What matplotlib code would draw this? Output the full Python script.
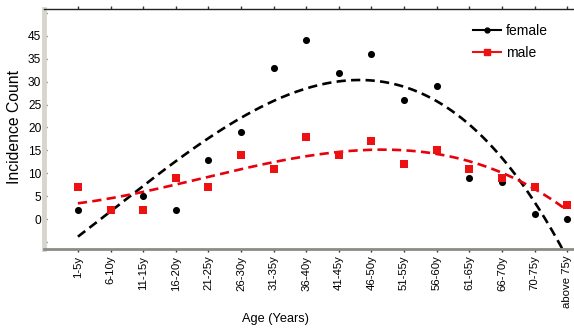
import numpy as np
import matplotlib
matplotlib.use("Agg")
import matplotlib.pyplot as plt
from matplotlib.lines import Line2D

plt.rcParams['font.family'] = ['Liberation Sans', 'DejaVu Sans']

age_groups = ['1-5y', '6-10y', '11-15y', '16-20y', '21-25y', '26-30y', '31-35y',
              '36-40y', '41-45y', '46-50y', '51-55y', '56-60y', '61-65y',
              '66-70y', '70-75y', 'above 75y']
female = [2, 2, 5, 2, 13, 19, 33, 39, 32, 36, 26, 29, 9, 8, 1, 0]
male = [7, 2, 2, 9, 7, 14, 11, 18, 14, 17, 12, 15, 11, 9, 7, 3]
ytick_values = [-5, 0, 5, 10, 15, 20, 25, 30, 35, 40, 45]
ytick_labels = ['', '0', '5', '10', '15', '20', '25', '30', '35', '45', '']

x = np.arange(len(age_groups))

fig = plt.figure(figsize=(5.74, 3.29), dpi=100)
ax = fig.add_axes([44/574, 1-249.3/329, 1-44/574, (249.3-9.3)/329])

# polynomial trend lines fitted to the data
xs = np.linspace(0, len(age_groups)-1, 200)
cf = np.polyfit(x, female, 3)
cm = np.polyfit(x, male, 3)
ax.plot(xs, np.polyval(cf, xs), ls=(0, (3.5, 2)), color='black', lw=1.9, zorder=2)
ax.plot(xs, np.polyval(cm, xs), ls=(0, (3.5, 2)), color='#e8000b', lw=1.9, zorder=2)

ax.scatter(x, female, s=26, marker='o', color='black', zorder=3, linewidths=0)
ax.scatter(x, male, s=34, marker='s', color='#ee1111', zorder=4, linewidths=0)

ax.set_xlim(-1.04, 15.21)
ax.set_ylim(-6.6, 45.8)
ax.set_xticks(x)
ax.set_xticklabels(age_groups, rotation=90, fontsize=8.2)
ax.set_yticks(ytick_values)
ax.set_yticklabels(ytick_labels, fontsize=8.6)
ax.tick_params(axis='y', direction='in', length=2, width=1, color='#333333', pad=2)
ax.tick_params(axis='x', direction='out', length=2.5, width=1, color='#333333', pad=2,
               top=True)

ax.spines['left'].set_color('#d6d6ce')
ax.spines['left'].set_linewidth(3.5)
ax.spines['bottom'].set_color('#8c8c86')
ax.spines['bottom'].set_linewidth(2)
ax.spines['top'].set_color('#222222')
ax.spines['top'].set_linewidth(1)
ax.spines['right'].set_visible(False)

ax.set_ylabel('Incidence Count', fontsize=11.3)
ax.yaxis.set_label_coords(-0.042, 0.51)
ax.set_xlabel('Age (Years)', fontsize=9.2)
ax.xaxis.set_label_coords((275-44)/530, -(313-249.3)/240)

handles = [Line2D([], [], color='black', marker='o', markersize=3.5, lw=1.5),
           Line2D([], [], color='#ee1111', marker='s', markersize=4, lw=1.5)]
leg = ax.legend(handles, ['female', 'male'], loc='upper right', frameon=False,
                fontsize=10, handlelength=2.0, handletextpad=0.4,
                bbox_to_anchor=(0.975, 0.99), labelspacing=0.55)

fig.savefig('out.png', dpi=100, facecolor='white')
